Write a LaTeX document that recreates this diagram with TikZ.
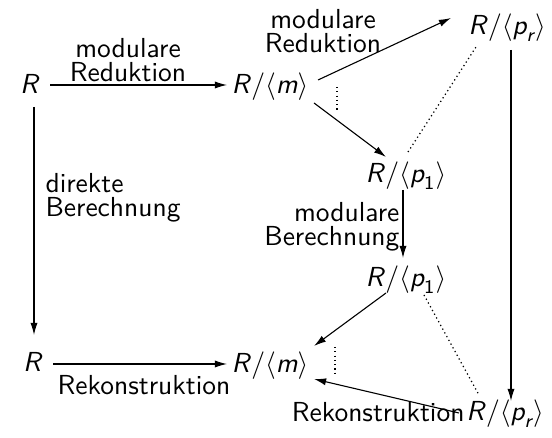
\documentclass[tikz,border=0pt]{standalone}
\usepackage{amsmath}
\usetikzlibrary{arrows.meta,calc}
\newcommand\Quo[1]{\textit{R}$/\langle #1\rangle$}
\newcommand\pOne{\textit{p}_{\textsf{1}}}
\newcommand\pAr{\textit{p}_{\textit{r}}}
\newcommand\mAr{\textit{m}}
\tikzset{
  every node/.style={font=\sffamily\fontsize{10}{8.5}\selectfont},
  obj/.style={inner sep=0pt, anchor=base},
  lab/.style={inner sep=0pt},
  arr/.style={line width=0.4pt, -{Latex[length=4.4pt,width=2.6pt]}},
  dots/.style={line width=0.45pt, dash pattern=on 0.45pt off 1.1pt},
}
\begin{document}
\begin{tikzpicture}[x=0.3636pt, y=-0.3636pt]
\useasboundingbox (0,0) rectangle (552,438);
% objects
\node[obj] (Rtop)  at (30,94)   {\textit{R}};
\node[obj] (Mtop)  at (270,94)  {\Quo{\mAr}};
\node[obj] (Prtop) at (507,35)  {\Quo{\pAr}};
\node[obj] (P1a)   at (406,183) {\Quo{\pOne}};
\node[obj] (P1b)   at (406,287) {\Quo{\pOne}};
\node[obj] (Rbot)  at (33,372)  {\textit{R}};
\node[obj] (Mbot)  at (270,373) {\Quo{\mAr}};
\node[obj] (Prbot) at (505,421) {\Quo{\pAr}};
% arrows
\draw[arr] ($(Rtop.base)+(20,-9)$) -- ($(Mtop.base)+(-43,-9)$);
\draw[arr] ($(Mtop.base)+(48,-14)$) -- ($(Prtop.base)+(-56,-17)$);
\draw[arr] ($(Mtop.base)+(44,9)$) -- ($(P1a.base)+(-20,-26)$);
\draw[dots] ($(Mtop.base)+(67,-7)$) -- ($(Mtop.base)+(67,18)$);
\draw[dots] ($(P1a.base)+(2,-31)$) -- ($(Prtop.base)+(-31,12)$);
\draw[arr] ($(Prtop.base)+(4,15)$) -- ($(Prbot.base)+(6,-20)$);
\draw[arr] ($(P1a.base)+(-3,7)$) -- ($(P1b.base)+(-3,-29)$);
\draw[arr] ($(P1b.base)+(-20,6)$) -- ($(Mbot.base)+(44,-27)$);
\draw[dots] ($(Mbot.base)+(65,-26)$) -- ($(Mbot.base)+(65,0)$);
\draw[dots] ($(P1b.base)+(18,8)$) -- ($(Prbot.base)+(-26,-26)$);
\draw[arr] ($(Prbot.base)+(-46,-8)$) -- ($(Mbot.base)+(44,6)$);
\draw[arr] ($(Rtop.base)+(4,13)$) -- ($(Rbot.base)+(1,-37)$);
\draw[arr] ($(Rbot.base)+(20,-8)$) -- ($(Mbot.base)+(-43,-9)$);
% labels
\node[lab, align=center, anchor=south] (l1) at (128,82) {modulare\\Reduktion};
\node[lab, align=center, anchor=south] (l2) at (323,53) {modulare\\Reduktion};
\node[lab, align=left, anchor=north west] (l3) at (45,173) {direkte\\Berechnung};
\node[lab, align=right, anchor=north east] (l4) at (400,202) {modulare\\Berechnung};
\node[lab, anchor=north] (l5) at (144,375) {Rekonstruktion};
\node[lab, anchor=base east] (l6) at (465,422) {Rekonstruktion};
\end{tikzpicture}
\end{document}
